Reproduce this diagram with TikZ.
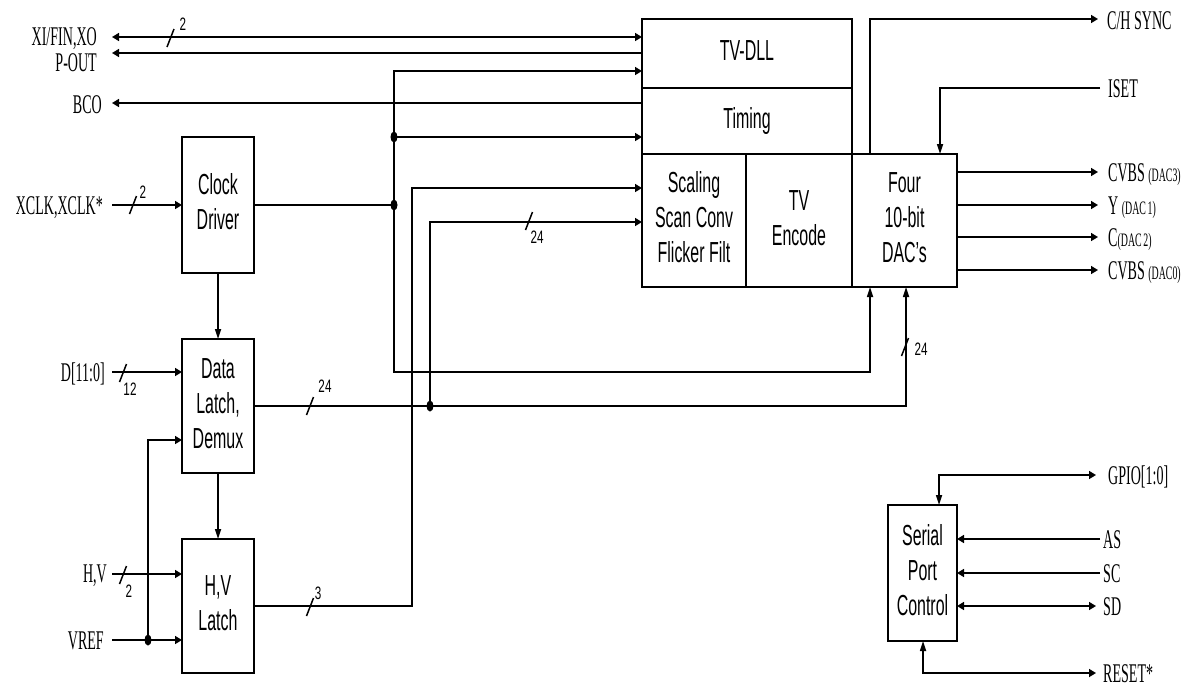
\documentclass[tikz,border=0pt]{standalone}
\usepackage{fontspec}
\setmainfont{Liberation Serif}
\setsansfont{Liberation Sans}
\usetikzlibrary{arrows.meta}
\newcommand\blk[1]{\scalebox{0.55}[1]{\sffamily\fontsize{29}{35}\selectfont\begin{tabular}{@{}c@{}}#1\end{tabular}}}
\newcommand\sig[1]{\scalebox{0.52}[1]{\fontsize{27}{30}\selectfont #1}}
\newcommand\smsig[1]{{\fontsize{19}{21}\selectfont #1}}
\newcommand\bw[1]{\scalebox{0.65}[1]{\sffamily\fontsize{18}{20}\selectfont #1}}
\begin{document}
\begin{tikzpicture}[x=1pt,y=-1pt,
  wire/.style={line width=1.6pt},
  >={Triangle[length=7pt,width=8pt]},
  vt/.style={>={Triangle[length=10pt,width=6pt]}},
  box/.style={draw,line width=1.6pt,inner sep=0pt,outer sep=0pt},
  lbl/.style={inner sep=0pt},
  bm/.pic={\draw[line width=1.5pt] (-3.5,9) -- (3.5,-9);},
  dot/.style={fill=black}
]
\useasboundingbox (0,0) rectangle (1198,689);

% ---------- blocks ----------
\node[box,minimum width=210pt,minimum height=69pt] (tvdll) at (747,53.5) {\blk{TV-DLL}};
\node[box,minimum width=210pt,minimum height=66pt] (timing) at (747,121) {\blk{Timing}};
\node[box,minimum width=104pt,minimum height=133pt] (scal) at (694,220.5) {\blk{Scaling\\Scan Conv\\Flicker Filt}};
\node[box,minimum width=106pt,minimum height=133pt] (enc) at (799,220.5) {\blk{TV\\Encode}};
\node[box,minimum width=105pt,minimum height=133pt] (dac) at (904.5,220.5) {\blk{Four\\10-bit\\DAC's}};
\node[box,minimum width=72pt,minimum height=136pt] (clk) at (218,205) {\blk{Clock\\Driver}};
\node[box,minimum width=72pt,minimum height=134pt] (dl) at (218,406) {\blk{Data\\Latch,\\Demux}};
\node[box,minimum width=72pt,minimum height=134pt] (hv) at (218,606) {\blk{H,V\\Latch}};
\node[box,minimum width=69pt,minimum height=136pt] (spc) at (922.5,573) {\blk{Serial\\Port\\Control}};

% ---------- helper coordinates ----------
\coordinate (yA) at (0,71);
\coordinate (yB) at (0,372);
\coordinate (yC) at (0,222);
\coordinate (yD) at (0,440);
\coordinate (yE) at (0,188);
\coordinate (xd1) at (870,0);
\coordinate (xd2) at (906,0);
\coordinate (xh) at (412,0);
\coordinate (xi) at (940,0);
\coordinate (xg) at (939,0);
\coordinate (xr) at (923,0);
\coordinate (jc) at (394,205);
\coordinate (jt) at (394,137);
\coordinate (jd) at (430,406);
\coordinate (jv) at (148,640);

% ---------- left signal ends ----------
\coordinate (xiE) at (112,37);
\coordinate (poE) at (112,53);
\coordinate (bcoE) at (112,103);
\coordinate (xclkE) at (112,205);
\coordinate (dE) at (112,372);
\coordinate (hvE) at (112,574);
\coordinate (vrefE) at (112,640);

\node[lbl,anchor=base east] (lxi) at (97,45) {\sig{XI/FIN,XO}};
\node[lbl,anchor=base east] (lpo) at (97,71) {\sig{P-OUT}};
\node[lbl,anchor=base east] (lbco) at (102,113) {\sig{BCO}};
\node[lbl,anchor=base east] (lxclk) at (103,214) {\sig{XCLK,XCLK*}};
\node[lbl,anchor=base east] (ld) at (105,381) {\sig{D[11:0]}};
\node[lbl,anchor=base east] (lhv) at (107,582) {\sig{H,V}};
\node[lbl,anchor=base east] (lvref) at (104,649) {\sig{VREF}};

% ---------- right signal ends ----------
\coordinate (syncW) at (1098,19);
\coordinate (isetW) at (1100,88);
\coordinate (o1) at (1098,172);
\coordinate (o2) at (1098,205);
\coordinate (o3) at (1098,237);
\coordinate (o4) at (1098,270);
\coordinate (gpioW) at (1096,475);
\coordinate (asW) at (1100,539);
\coordinate (scW) at (1100,573);
\coordinate (sdW) at (1096,606);
\coordinate (rstW) at (1096,673);

\node[lbl,anchor=base west] (lsync) at (1107,29) {\sig{C/H SYNC}};
\node[lbl,anchor=base west] (liset) at (1108,97) {\sig{ISET}};
\node[lbl,anchor=base west] (lo1) at (1108,181) {\sig{CVBS \smsig{(DAC3)}}};
\node[lbl,anchor=base west] (lo2) at (1108,214) {\sig{Y \smsig{(DAC\,1)}}};
\node[lbl,anchor=base west] (lo3) at (1108,246) {\sig{C\smsig{(DAC\,2)}}};
\node[lbl,anchor=base west] (lo4) at (1108,279) {\sig{CVBS \smsig{(DAC0)}}};
\node[lbl,anchor=base west] (lgpio) at (1108,484) {\sig{GPIO[1:0]}};
\node[lbl,anchor=base west] (las) at (1103,548) {\sig{AS}};
\node[lbl,anchor=base west] (lsc) at (1103,582) {\sig{SC}};
\node[lbl,anchor=base west] (lsd) at (1103,615) {\sig{SD}};
\node[lbl,anchor=base west] (lrst) at (1103,682) {\sig{RESET*}};

% ---------- connectors ----------
\draw[wire,<->] (xiE) -- (xiE -| tvdll.west);
\draw[wire,<-] (poE) -- (poE -| tvdll.west);
\draw[wire,<-] (bcoE) -- (bcoE -| timing.west);

% clock net
\draw[wire] (clk.east) -- (jc);
\draw[wire,->] (jc) -- (jc |- yA) -- (tvdll.west |- yA);
\draw[wire,->] (jt) -- (timing.west |- jt);
\draw[wire,vt,->] (jc) -- (jc |- yB) -- (xd1 |- yB) -- (xd1 |- dac.south);
\draw[wire,->] (xclkE) -- (clk.west);
\draw[wire,vt,->] (clk.south) -- (dl.north);

% data path
\draw[wire,->] (dE) -- (dE -| dl.west);
\draw[wire,vt,->] (dl.east) -- (xd2 |- dl.east) -- (xd2 |- dac.south);
\draw[wire,->] (jd) -- (jd |- yC) -- (scal.west |- yC);
\draw[wire,vt,->] (dl.south) -- (hv.north);

% H,V / VREF
\draw[wire,->] (hvE) -- (hvE -| hv.west);
\draw[wire,->] (vrefE) -- (vrefE -| hv.west);
\draw[wire,->] (jv) -- (jv |- yD) -- (dl.west |- yD);
\draw[wire,->] (hv.east) -- (xh |- hv.east) -- (xh |- yE) -- (scal.west |- yE);

% DAC side
\draw[wire,->] (xd1 |- dac.north) -- (xd1 |- syncW) -- (syncW);
\draw[wire,vt,->] (isetW) -- (xi |- isetW) -- (xi |- dac.north);
\draw[wire,->] (dac.east |- o1) -- (o1);
\draw[wire,->] (dac.east |- o2) -- (o2);
\draw[wire,->] (dac.east |- o3) -- (o3);
\draw[wire,->] (dac.east |- o4) -- (o4);

% serial port
\draw[wire,arrows={Triangle[length=10pt,width=6pt]-Triangle[length=7pt,width=8pt]}] (xg |- spc.north) -- (xg |- gpioW) -- (gpioW);
\draw[wire,->] (asW) -- (asW -| spc.east);
\draw[wire,->] (scW) -- (scW -| spc.east);
\draw[wire,<->] (sdW -| spc.east) -- (sdW);
\draw[wire,arrows={Triangle[length=10pt,width=6pt]-Triangle[length=7pt,width=8pt]}] (xr |- spc.south) -- (xr |- rstW) -- (rstW);

% junction dots
\fill[dot] (jc) ellipse [x radius=3.5pt, y radius=5.5pt];
\fill[dot] (jt) ellipse [x radius=3.5pt, y radius=5.5pt];
\fill[dot] (jd) ellipse [x radius=3.5pt, y radius=5.5pt];
\fill[dot] (jv) ellipse [x radius=3.5pt, y radius=5.5pt];

% bus width marks
\pic at (170.5,38) {bm};   \node[lbl] (b1) at (183,24) {\bw{2}};
\pic at (133,205) {bm};    \node[lbl] (b2) at (143,192) {\bw{2}};
\pic at (123,373) {bm};    \node[lbl] (b3) at (130,389) {\bw{12}};
\pic at (123,575) {bm};    \node[lbl] (b4) at (129,591) {\bw{2}};
\pic at (310,406) {bm};    \node[lbl] (b5) at (325,386) {\bw{24}};
\pic at (310,607) {bm};    \node[lbl] (b6) at (318,593) {\bw{3}};
\pic at (529,221) {bm};    \node[lbl] (b7) at (537,237) {\bw{24}};
\pic at (905,347) {bm};    \node[lbl] (b8) at (921,349) {\bw{24}};
\end{tikzpicture}
\end{document}
